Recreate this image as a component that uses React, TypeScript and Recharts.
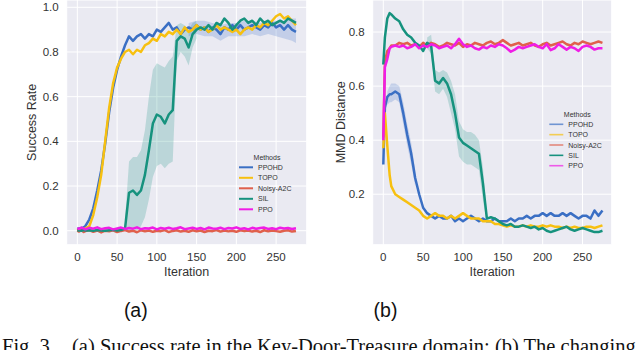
import { ComposedChart, Line, Area, XAxis, YAxis, CartesianGrid } from "recharts";

// iteration grid shared by both panels
const iterations = [0, 2, 5, 8, 10, 15, 20, 25, 30, 35, 40, 45, 50, 55, 60, 65, 70, 75, 80, 85, 90, 95, 100, 105, 110, 115, 120, 125, 130, 135, 140, 145, 150, 155, 160, 165, 170, 175, 180, 185, 190, 195, 200, 205, 210, 215, 220, 225, 230, 235, 240, 245, 250, 255, 260, 265, 270, 275];

const methods = ["PPOHD", "TOPO", "Noisy-A2C", "SIL", "PPO"];
const colors = ["#3a6fc4", "#f7c010", "#e0604c", "#16927e", "#f01de6"];

const xTicks = [0, 50, 100, 150, 200, 250];
const successTicks = [0, 0.2, 0.4, 0.6, 0.8, 1.0];
const mmdTicks = [0.2, 0.4, 0.6, 0.8];

// (a) success rate
const successPPOHD = [0.01, 0.01, 0.012, 0.015, 0.02, 0.05, 0.1, 0.18, 0.27, 0.39, 0.53, 0.64, 0.72, 0.78, 0.83, 0.87, 0.85, 0.87, 0.88, 0.86, 0.88, 0.87, 0.9, 0.89, 0.91, 0.93, 0.9, 0.91, 0.88, 0.9, 0.91, 0.9, 0.92, 0.9, 0.91, 0.89, 0.91, 0.9, 0.88, 0.91, 0.9, 0.92, 0.9, 0.92, 0.9, 0.91, 0.92, 0.91, 0.9, 0.92, 0.91, 0.93, 0.91, 0.92, 0.9, 0.92, 0.9, 0.89];
const successTOPO = [0.0, 0.005, 0.005, 0.008, 0.01, 0.02, 0.07, 0.15, 0.25, 0.4, 0.55, 0.66, 0.73, 0.77, 0.8, 0.81, 0.79, 0.81, 0.8, 0.83, 0.84, 0.86, 0.85, 0.88, 0.87, 0.89, 0.88, 0.9, 0.88, 0.91, 0.89, 0.9, 0.92, 0.9, 0.91, 0.89, 0.9, 0.92, 0.9, 0.91, 0.9, 0.89, 0.9, 0.88, 0.9, 0.91, 0.9, 0.92, 0.91, 0.93, 0.92, 0.94, 0.96, 0.97, 0.95, 0.96, 0.94, 0.92];
const successNoisyA2C = [0.0, -0.004, 0.002, -0.006, -0.002, 0.003, -0.005, 0.001, -0.008, 0.0, -0.003, 0.002, -0.006, -0.001, 0.003, -0.004, 0.0, -0.007, 0.002, -0.003, 0.001, -0.005, 0.0, -0.002, 0.003, -0.006, -0.001, 0.002, -0.004, 0.0, -0.005, 0.002, -0.003, 0.001, -0.006, 0.0, -0.002, 0.003, -0.004, 0.001, -0.003, 0.0, -0.005, 0.002, -0.002, 0.001, -0.004, 0.0, -0.006, 0.002, -0.003, 0.001, -0.002, -0.005, 0.0, 0.002, -0.004, -0.001];
const successSIL = [0.0, 0.002, 0.0, 0.003, 0.001, 0.002, 0.0, 0.003, 0.001, 0.0, 0.002, 0.004, 0.001, 0.003, 0.01, 0.17, 0.18, 0.16, 0.18, 0.25, 0.36, 0.48, 0.52, 0.51, 0.48, 0.52, 0.54, 0.85, 0.87, 0.86, 0.82, 0.88, 0.9, 0.91, 0.9, 0.92, 0.9, 0.93, 0.92, 0.95, 0.93, 0.9, 0.92, 0.94, 0.95, 0.93, 0.94, 0.92, 0.95, 0.93, 0.94, 0.92, 0.93, 0.94, 0.93, 0.95, 0.94, 0.93];
const successPPO = [0.012, 0.008, 0.014, 0.01, 0.006, 0.013, 0.009, 0.015, 0.007, 0.011, 0.013, 0.006, 0.01, 0.014, 0.008, 0.012, 0.009, 0.015, 0.007, 0.011, 0.01, 0.014, 0.006, 0.012, 0.009, 0.013, 0.008, 0.011, 0.015, 0.007, 0.01, 0.013, 0.008, 0.012, 0.006, 0.014, 0.01, 0.009, 0.013, 0.007, 0.012, 0.01, 0.015, 0.008, 0.011, 0.006, 0.013, 0.009, 0.012, 0.014, 0.008, 0.011, 0.007, 0.013, 0.01, 0.012, 0.008, 0.011];

const successSILBandIter = [60, 65, 70, 75, 80, 85, 90, 95, 100, 105, 110, 115, 120, 125, 130, 135, 140, 145, 150];
const successSILBandLow = [0.0, 0.0, 0.01, 0.0, 0.02, 0.06, 0.14, 0.24, 0.29, 0.3, 0.28, 0.3, 0.31, 0.76, 0.8, 0.78, 0.74, 0.82, 0.86];
const successSILBandHigh = [0.05, 0.31, 0.33, 0.33, 0.36, 0.45, 0.6, 0.72, 0.75, 0.74, 0.73, 0.76, 0.78, 0.92, 0.93, 0.92, 0.9, 0.93, 0.94];
const successPPOHDBandIter = [140, 150, 160, 170, 180, 190, 200, 210, 220, 230, 240, 250, 260, 270, 275];
const successPPOHDBandLow = [0.87, 0.88, 0.87, 0.87, 0.85, 0.87, 0.87, 0.87, 0.88, 0.87, 0.88, 0.87, 0.86, 0.85, 0.84];
const successPPOHDBandHigh = [0.93, 0.94, 0.94, 0.93, 0.92, 0.93, 0.93, 0.94, 0.94, 0.93, 0.94, 0.94, 0.94, 0.95, 0.95];

// (b) MMD distance
const mmdPPOHD = [0.31, 0.52, 0.56, 0.57, 0.57, 0.58, 0.57, 0.5, 0.42, 0.35, 0.26, 0.2, 0.15, 0.13, 0.12, 0.11, 0.12, 0.11, 0.11, 0.12, 0.1, 0.11, 0.1, 0.11, 0.12, 0.11, 0.1, 0.11, 0.1, 0.1, 0.11, 0.1, 0.1, 0.1, 0.11, 0.1, 0.11, 0.11, 0.12, 0.11, 0.12, 0.12, 0.13, 0.12, 0.13, 0.12, 0.12, 0.13, 0.12, 0.13, 0.12, 0.11, 0.12, 0.12, 0.11, 0.14, 0.12, 0.14];
const mmdTOPO = [0.37, 0.5, 0.38, 0.27, 0.23, 0.2, 0.19, 0.18, 0.17, 0.16, 0.15, 0.14, 0.12, 0.11, 0.12, 0.13, 0.12, 0.12, 0.11, 0.12, 0.11, 0.12, 0.13, 0.12, 0.11, 0.11, 0.11, 0.1, 0.1, 0.1, 0.09, 0.09, 0.085, 0.08, 0.085, 0.08, 0.08, 0.085, 0.08, 0.085, 0.08, 0.08, 0.085, 0.08, 0.085, 0.08, 0.08, 0.075, 0.08, 0.075, 0.08, 0.075, 0.075, 0.08, 0.08, 0.075, 0.08, 0.085];
const mmdNoisyA2C = [0.41, 0.69, 0.73, 0.74, 0.75, 0.75, 0.76, 0.755, 0.76, 0.75, 0.755, 0.745, 0.76, 0.75, 0.76, 0.755, 0.745, 0.75, 0.76, 0.755, 0.75, 0.76, 0.745, 0.755, 0.75, 0.76, 0.755, 0.75, 0.76, 0.765, 0.755, 0.76, 0.77, 0.76, 0.75, 0.755, 0.76, 0.75, 0.755, 0.76, 0.75, 0.745, 0.755, 0.76, 0.75, 0.755, 0.76, 0.765, 0.755, 0.75, 0.76, 0.755, 0.765, 0.76, 0.755, 0.76, 0.765, 0.76];
const mmdSIL = [0.68, 0.78, 0.85, 0.87, 0.865, 0.85, 0.84, 0.81, 0.79, 0.78, 0.76, 0.75, 0.73, 0.76, 0.75, 0.62, 0.61, 0.63, 0.61, 0.57, 0.5, 0.41, 0.39, 0.38, 0.37, 0.36, 0.35, 0.24, 0.11, 0.115, 0.11, 0.1, 0.09, 0.085, 0.09, 0.08, 0.08, 0.085, 0.08, 0.075, 0.08, 0.07, 0.075, 0.065, 0.06, 0.065, 0.07, 0.075, 0.08, 0.07, 0.065, 0.07, 0.075, 0.07, 0.065, 0.06, 0.06, 0.065];
const mmdPPO = [0.4, 0.67, 0.7, 0.74, 0.745, 0.75, 0.745, 0.75, 0.74, 0.745, 0.755, 0.74, 0.75, 0.745, 0.755, 0.75, 0.74, 0.745, 0.75, 0.74, 0.755, 0.775, 0.755, 0.745, 0.75, 0.74, 0.735, 0.745, 0.74, 0.75, 0.745, 0.755, 0.75, 0.74, 0.727, 0.735, 0.745, 0.74, 0.745, 0.75, 0.755, 0.745, 0.74, 0.755, 0.733, 0.74, 0.755, 0.745, 0.735, 0.745, 0.74, 0.73, 0.745, 0.75, 0.745, 0.735, 0.74, 0.74];

const mmdSILBandIter = [55, 60, 65, 70, 75, 80, 85, 90, 95, 100, 105, 110, 115, 120, 125, 130];
const mmdSILBandLow = [0.74, 0.72, 0.58, 0.57, 0.59, 0.56, 0.5, 0.44, 0.34, 0.32, 0.31, 0.31, 0.3, 0.29, 0.18, 0.09];
const mmdSILBandHigh = [0.78, 0.79, 0.66, 0.65, 0.66, 0.65, 0.62, 0.57, 0.47, 0.44, 0.43, 0.43, 0.42, 0.4, 0.3, 0.13];
const mmdPPOHDBandIter = [5, 8, 10, 15, 20, 25, 30, 35, 40];
const mmdPPOHDBandLow = [0.53, 0.54, 0.54, 0.55, 0.54, 0.46, 0.38, 0.31, 0.23];
const mmdPPOHDBandHigh = [0.58, 0.6, 0.61, 0.61, 0.6, 0.54, 0.46, 0.39, 0.29];

const sans = "'Liberation Sans', Arial, sans-serif";
const serif = "'Liberation Serif', 'Times New Roman', serif";
const textColor = "#333";

type Band = { iters: number[]; low: number[]; high: number[]; color: string };

function buildRows(series: number[][], bands: Band[]) {
  return iterations.map((it, i) => {
    const row: any = { it };
    series.forEach((s, k) => (row["s" + k] = s[i]));
    bands.forEach((b, k) => {
      const j = b.iters.indexOf(it);
      row["b" + k] = j < 0 ? null : [b.low[j], b.high[j]];
    });
    return row;
  });
}

function Panel(props: {
  left: number;
  rightMargin: number;
  yWidth: number;
  xDomain: number[];
  yDomain: number[];
  yTicks: number[];
  yLabel: string;
  yLabelOffset: number;
  series: number[][];
  bands: Band[];
}) {
  const rows = buildRows(props.series, props.bands);
  const tick = { fill: textColor, fontSize: 11.5, fontFamily: sans };
  return (
    <div style={{ position: "absolute", left: props.left, top: 0 }}>
      <ComposedChart
        width={320}
        height={290}
        data={rows}
        margin={{ top: 0, right: props.rightMargin, bottom: 0, left: 0 }}
      >
        <CartesianGrid fill="#eaeaf2" stroke="#ffffff" strokeWidth={1} />
        <XAxis
          dataKey="it"
          type="number"
          domain={props.xDomain}
          ticks={xTicks}
          allowDataOverflow
          axisLine={false}
          tickLine={false}
          height={45.3}
          tick={tick}
          label={{ value: "Iteration", position: "insideBottom", offset: 14, style: { fill: textColor, fontSize: 12.5, fontFamily: sans } }}
        />
        <YAxis
          type="number"
          domain={props.yDomain}
          ticks={props.yTicks}
          allowDataOverflow
          axisLine={false}
          tickLine={false}
          width={props.yWidth}
          tick={tick}
          tickFormatter={(v: number) => v.toFixed(1)}
          label={{
            value: props.yLabel,
            angle: -90,
            position: "insideLeft",
            offset: props.yLabelOffset,
            style: { textAnchor: "middle", fill: textColor, fontSize: 12.5, fontFamily: sans },
          }}
        />
        {props.bands.map((b, k) => (
          <Area
            key={"b" + k}
            dataKey={"b" + k}
            type="linear"
            stroke="none"
            fill={b.color}
            fillOpacity={0.22}
            connectNulls
            dot={false}
            activeDot={false}
            isAnimationActive={false}
          />
        ))}
        {props.series.map((_, k) => (
          <Line
            key={"s" + k}
            dataKey={"s" + k}
            type="linear"
            stroke={colors[k]}
            strokeWidth={2.5}
            strokeLinejoin="round"
            dot={false}
            activeDot={false}
            isAnimationActive={false}
          />
        ))}
      </ComposedChart>
    </div>
  );
}

function LegendBox(props: { x: number; y: number; step: number; faded: boolean }) {
  const { x, y, step } = props;
  return (
    <g fontFamily={sans} fontSize={7} fill={textColor}>
      <text x={x + 28} y={y + 2.5} textAnchor="middle">Methods</text>
      {methods.map((m, k) => {
        const cy = y + 10.3 + k * step;
        return (
          <g key={m}>
            <line
              x1={x}
              x2={x + 14}
              y1={cy}
              y2={cy}
              stroke={colors[k]}
              strokeWidth={props.faded ? 1.6 : 2}
              strokeOpacity={props.faded && k !== 3 ? 0.7 : 1}
            />
            <text x={x + 19} y={cy + 2.5}>{m}</text>
          </g>
        );
      })}
    </g>
  );
}

export default function App() {
  return (
    <div style={{ position: "absolute", left: 0, top: 0, width: 640, height: 350, background: "#fff", overflow: "hidden" }}>
      <Panel
        left={0}
        rightMargin={13.3}
        yWidth={66.7}
        xDomain={[-13.4, 288.5]}
        yDomain={[-0.0627, 1.0327]}
        yTicks={successTicks}
        yLabel="Success Rate"
        yLabelOffset={32}
        series={[successPPOHD, successTOPO, successNoisyA2C, successSIL, successPPO]}
        bands={[
          { iters: successSILBandIter, low: successSILBandLow, high: successSILBandHigh, color: colors[3] },
          { iters: successPPOHDBandIter, low: successPPOHDBandLow, high: successPPOHDBandHigh, color: colors[0] },
        ]}
      />
      <Panel
        left={320}
        rightMargin={28.3}
        yWidth={52.7}
        xDomain={[-13.3, 286.6]}
        yDomain={[0.0133, 0.9185]}
        yTicks={mmdTicks}
        yLabel="MMD Distance"
        yLabelOffset={20.7}
        series={[mmdPPOHD, mmdTOPO, mmdNoisyA2C, mmdSIL, mmdPPO]}
        bands={[
          { iters: mmdSILBandIter, low: mmdSILBandLow, high: mmdSILBandHigh, color: colors[3] },
          { iters: mmdPPOHDBandIter, low: mmdPPOHDBandLow, high: mmdPPOHDBandHigh, color: colors[0] },
        ]}
      />
      <svg width={640} height={350} style={{ position: "absolute", left: 0, top: 0, pointerEvents: "none" }}>
        <LegendBox x={239} y={157} step={10.5} faded={false} />
        <LegendBox x={549.3} y={114} step={10.35} faded />
        <text x={135.8} y={317.2} textAnchor="middle" fontFamily={sans} fontSize={19.5} fill="#111">(a)</text>
        <text x={385.5} y={317.2} textAnchor="middle" fontFamily={sans} fontSize={19.5} fill="#111">(b)</text>
        <text x={2} y={352.5} fontFamily={serif} fontSize={20.5} fill="#111">Fig. 3.</text>
        <text x={72} y={352.5} fontFamily={serif} fontSize={20.5} fill="#111">(a) Success rate in the Key-Door-Treasure domain; (b) The changing</text>
      </svg>
    </div>
  );
}
